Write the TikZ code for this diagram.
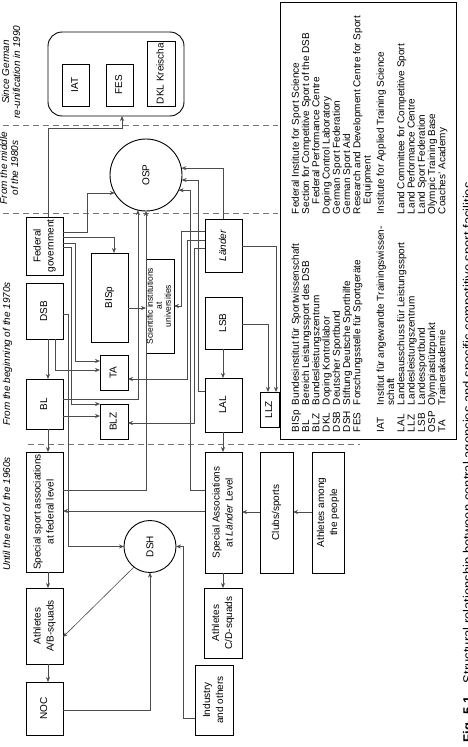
\documentclass[tikz,border=0pt]{standalone}
\usepackage{fontspec}
\setmainfont{Liberation Sans}
\usepackage{graphicx}
\usetikzlibrary{arrows.meta}
% upright-reading text turned a quarter turn, one tabular row per line
\newcommand{\vtext}[1]{\rotatebox{90}{\begin{tabular}{@{}c@{}}#1\end{tabular}}}
\begin{document}
\begin{tikzpicture}[x=1pt,y=1pt,
  every node/.style={inner sep=0pt, outer sep=0pt},
  box/.style={draw, line width=0.9pt, font=\fontsize{10}{13}\selectfont},
  roundbox/.style={draw, line width=0.9pt, rounded corners=14pt},
  hub/.style={draw, circle, line width=0.9pt, font=\fontsize{10}{13}\selectfont},
  conn/.style={draw=black!70, line width=0.6pt, -{Stealth[length=5pt,width=4pt]}},
  era/.style={font=\fontsize{10}{11}\selectfont\itshape},
  period/.style={draw=black!55, line width=0.7pt, dash pattern=on 6pt off 4pt},
]
\useasboundingbox (0,0) rectangle (468,-747);
\clip (0,0) rectangle (468,-747);

% ---- period separators and headings
\draw[period] (3,-125) -- (278,-125);
\draw[period] (3,-213) -- (278,-213);
\draw[period] (28,-444) -- (360,-444);
\node[era] (era90) at (12.5,-72) {\vtext{Since German\\re-unification in 1990}};
\node[era] (era80) at (10.5,-168) {\vtext{From the middle\\of the 1980s}};
\node[era] (era70) at (8,-354) {\vtext{From the beginning of the 1970s}};
\node[era] (era60) at (8,-514) {\vtext{Until the end of the 1960s}};

% ---- institutions added after 1990
\node[roundbox, minimum width=136pt, minimum height=84pt] (group) at (116,-74) {};
\node[box, minimum width=27pt, minimum height=42pt] (iat) at (75.5,-85) {\vtext{IAT}};
\node[box, minimum width=27pt, minimum height=42pt] (fes) at (119.5,-85) {\vtext{FES}};
\node[box, minimum width=28pt, minimum height=65pt] (dkl) at (161,-73.5) {\vtext{DKL Kreischa}};

% ---- federal column
\node[box, minimum width=37pt, minimum height=58pt] (fed) at (44.5,-246) {\vtext{Federal\\government}};
\node[box, minimum width=37pt, minimum height=56pt] (dsb) at (44.5,-311) {\vtext{DSB}};
\node[box, minimum width=37pt, minimum height=50pt] (bl) at (44.5,-404) {\vtext{BL}};
\node[box, minimum width=37pt, minimum height=120pt] (ssaf) at (44.5,-512) {\vtext{Special sport associations\\at federal level}};
\node[box, minimum width=37pt, minimum height=76pt] (athab) at (44.5,-626) {\vtext{Athletes\\A/B-squads}};
\node[box, minimum width=37pt, minimum height=53pt] (noc) at (44.5,-708.5) {\vtext{NOC}};

% ---- federal institutes
\node[box, minimum width=37pt, minimum height=89pt] (bisp) at (109.5,-297.5) {\vtext{BISp}};
\node[box, minimum width=28pt, minimum height=35pt] (ta) at (114,-372.5) {\vtext{TA}};
\node[box, minimum width=28pt, minimum height=35pt] (blz) at (114,-421.5) {\vtext{BLZ}};
\node[box, minimum width=28pt, minimum height=94pt, font=\fontsize{8.5}{9}\selectfont] (sci) at (160,-306) {\vtext{Scientific institutions\\at\\universities}};
\node[hub, minimum size=72pt] (osp) at (146,-175) {\rotatebox{90}{OSP}};
\node[hub, minimum size=52pt] (dsh) at (150,-546.5) {\rotatebox{90}{DSH}};

% ---- Land column
\node[box, minimum width=37pt, minimum height=53pt] (laender) at (223.5,-245.5) {\vtext{\textit{Länder}}};
\node[box, minimum width=37pt, minimum height=52pt] (lsb) at (223.5,-323) {\vtext{LSB}};
\node[box, minimum width=37pt, minimum height=54pt] (lal) at (223.5,-405) {\vtext{LAL}};
\node[box, minimum width=19pt, minimum height=35pt] (llz) at (269.5,-409.5) {\vtext{LLZ}};
\node[box, minimum width=37pt, minimum height=121pt] (ssal) at (223.5,-512.5) {\vtext{Special Associations\\at \textit{Länder} Level}};
\node[box, minimum width=33pt, minimum height=121pt] (clubs) at (276.5,-512.5) {\vtext{Clubs/sports}};
\node[box, minimum width=32pt, minimum height=121pt] (athpeople) at (328,-512.5) {\vtext{Athletes among\\the people}};
\node[box, minimum width=38pt, minimum height=70pt] (athcd) at (223,-623) {\vtext{Athletes\\C/D-squads}};
\node[box, minimum width=38pt, minimum height=70pt] (industry) at (214,-700) {\vtext{Industry\\and others}};

% ---- connectors
\draw[conn] (fed.north -| 48,0) |- (122,-128) -- (group.south -| 122,0);
\draw[conn] (fed.east |- 0,-232) -- (87,-232) |- (osp.210);
\draw[conn] (fed.east |- 0,-237) -| (bisp.north -| 114,0);
\draw[conn] (fed.east |- 0,-243) -- (75,-243) |- (ta.west |- 0,-361);
\draw[conn] (fed.east |- 0,-247) -- (71,-247) |- (blz.west |- 0,-404);
\draw[conn] (dsb.east |- 0,-314) -- (68,-314) |- (dsh.west);
\draw[conn] (dsb.south -| 48,0) -- (bl.north -| 48,0);
\draw[conn] (dsb.south -| 55,0) |- (ta.west |- 0,-370);
\draw[conn] (bl.east |- 0,-399) -| (osp.257);
\draw[conn] (bl.east |- 0,-416) -- (blz.west |- 0,-416);
\draw[conn] (bl.south -| 48,0) -- (ssaf.north -| 48,0);
\draw[conn] (ssaf.east |- 0,-490) -| (osp.south);
\draw[conn] (ssaf.south -| 48,0) -- (athab.north -| 48,0);
\draw[conn] (athab.south -| 48,0) -- (noc.north -| 48,0);
\draw[conn] (noc.east |- 0,-710) -| (dsh.south);
\draw[conn] (dsh.232) -- (athab.east |- 0,-637);
\draw[conn] (industry.west |- 0,-718) -- (183,-718) |- (dsh.east);
\draw[conn] (bisp.east |- 0,-308) -- (sci.west |- 0,-308);
\draw[conn] (laender.west |- 0,-231) -- (181,-231) |- (sci.east |- 0,-306);
\draw[conn] (laender.west |- 0,-240) -- (187,-240) |- (ta.east |- 0,-379);
\draw[conn] (laender.west |- 0,-248) -- (194,-248) |- (blz.east |- 0,-423);
\draw[conn] (laender.north -| 223,0) |- (osp.11);
\draw[conn] (lal.west |- 0,-391) -- (198,-391) |- (osp.352);
\draw[conn] (ssal.west |- 0,-490) -- (190,-490) |- (osp.335);
\draw[conn] (laender.east |- 0,-246) -- (276,-246) -- (llz.north -| 276,0);
\draw[conn] (lsb.east |- 0,-324) -- (268,-324) -- (llz.north -| 268,0);
\draw[conn] (lsb.south -| 223,0) -- (lal.north -| 223,0);
\draw[conn] (lal.south -| 223,0) -- (ssal.north -| 223,0);
\draw[conn] (ssal.south -| 223,0) -- (athcd.north -| 223,0);
\draw[conn] (clubs.west |- 0,-512) -- (ssal.east |- 0,-512);
\draw[conn] (athpeople.west |- 0,-512) -- (clubs.east |- 0,-512);
\draw[conn] (ssal.west |- 0,-511) -- (ssaf.east |- 0,-511);

% ---- abbreviations
\node[draw, line width=0.9pt, minimum width=176pt, minimum height=437pt] (legend) at (368,-220.5) {};
\node[anchor=south west, font=\fontsize{10}{10}\selectfont] (legendtext) at (291.6,-432) {\rotatebox{90}{%
\begin{tabular}{@{}p{27pt}@{}p{191pt}@{}l@{}}
BISp & Bundesinstitut für Sportwissenschaft & Federal Institute for Sport Science\\
BL & Bereich Leistungssport des DSB & Section for Competitive Sport of the DSB\\
BLZ & Bundesleistungszentrum & \hspace*{10pt}Federal Performance Centre\\
DKL & Doping Kontrollabor & Doping Control Laboratory\\
DSB & Deutscher Sportbund & German Sport Federation\\
DSH & Stiftung Deutsche Sporthilfe & German Sport Aid\\
FES & Forschungsstelle für Sportgeräte & Research and Development Centre for Sport\\
 & & \hspace*{10pt}Equipment\\[3pt]
IAT & Institut für angewandte Trainingswissen- & Institute for Applied Training Science\\
 & schaft & \\
LAL & Landesausschuss für Leistungssport & Land Committee for Competitive Sport\\
LLZ & Landesleistungszentrum & Land Performance Centre\\
LSB & Landessportbund & Land Sport Federation\\
OSP & Olympiastützpunkt & Olympic Training Base\\
TA & Trainerakademie & Coaches' Academy
\end{tabular}}};

% ---- caption, running off the lower edge
\node[anchor=south west, font=\fontsize{13}{15}\selectfont] (caption) at (463,-742) {\rotatebox{90}{\textbf{Fig. 5.1}\quad Structural relationship between central agencies and specific competitive sport facilities}};
\end{tikzpicture}
\end{document}
